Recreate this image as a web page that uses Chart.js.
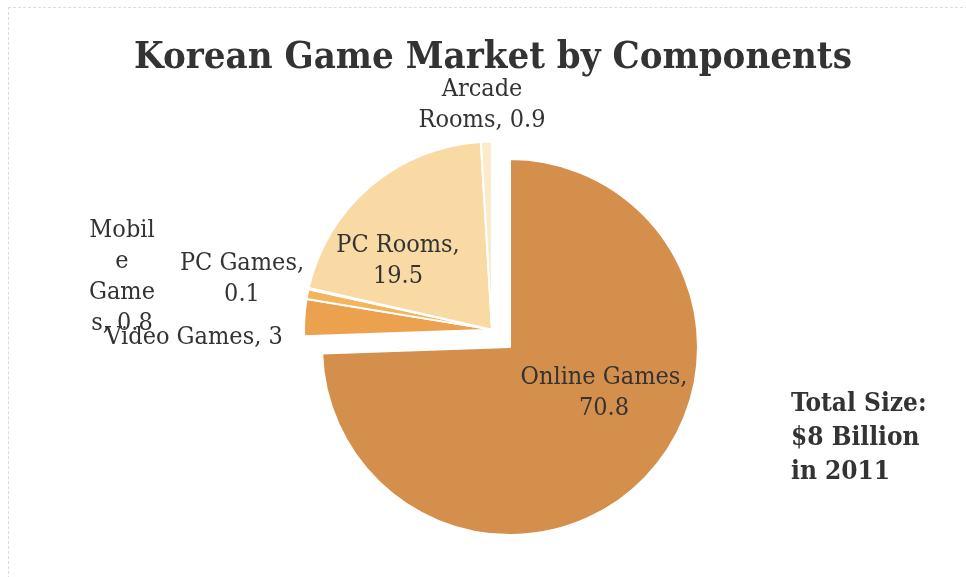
<!DOCTYPE html>
<html>
<head>
<meta charset="utf-8">
<title>Korean Game Market by Components</title>
<script src="https://cdn.jsdelivr.net/npm/chart.js@4.4.1/dist/chart.umd.min.js"></script>
<style>
    html, body { margin: 0; padding: 0; background: #fff; }
    #wrap { position: relative; width: 966px; height: 577px; overflow: hidden; }
    #frame {
        position: absolute; left: 8px; top: 7px; right: -2px; bottom: -2px;
        border-left: 1px dashed #dcdcdc; border-top: 1px dashed #dcdcdc;
    }
    canvas { position: absolute; left: 0; top: 0; }
</style>
</head>
<body>
<div id="wrap">
    <div id="frame"></div>
    <canvas id="marketPie" width="966" height="577"></canvas>
</div>
<script>
// --- DATA ---
const categories = ['Online Games', 'Video Games', 'Mobile Games', 'PC Games', 'PC Rooms', 'Arcade Rooms'];
const shares = [70.8, 3, 0.8, 0.1, 19.5, 0.9];
const sliceColors = ['#d58f4c', '#eca14e', '#f2b55e', '#f6c778', '#f9daa4', '#fcebcb'];

const chartTitle = 'Korean Game Market by Components';
const noteLines = ['Total Size:', '$8 Billion', 'in 2011'];

// slices pulled out of the pie together (everything but online games)
const explodedSlices = [1, 2, 3, 4, 5];
const explodeDistance = 25;

// --- LABEL LAYOUT ---
// where each "Name, value" string wraps (character indexes)
const labelBreaks = [[13], [], [5, 6, 11], [9], [9], [6]];
// label block centre, relative to the pie centre
const labelOffsets = [[94, 46], [-316, -10], [-388, -70], [-268, -68], [-112, -86], [-28, -242]];

const TEXT_COLOR = '#333333';
const LABEL_FONT = '25px "DejaVu Serif Condensed", "DejaVu Serif", serif';
const LABEL_LINE = 31;

function wrapLabel(i) {
    const text = `${categories[i]}, ${shares[i]}`;
    const cuts = [0, ...labelBreaks[i], text.length];
    const lines = [];
    for (let k = 0; k < cuts.length - 1; k++) {
        const part = text.slice(cuts[k], cuts[k + 1]).trim();
        if (part) lines.push(part);
    }
    return lines;
}

// shift of the pulled-out group, along the bisector of its combined angle
function groupShift() {
    const total = shares.reduce((a, b) => a + b, 0);
    let start = 0;
    for (let i = 0; i < explodedSlices[0]; i++) start += shares[i];
    let span = 0;
    explodedSlices.forEach(i => span += shares[i]);
    const mid = ((start + span / 2) / total) * Math.PI * 2 - Math.PI / 2;
    return { dx: Math.cos(mid) * explodeDistance, dy: Math.sin(mid) * explodeDistance };
}

// draws the arcs, moving the exploded group as one piece
const explodeGroup = {
    id: 'explodeGroup',
    beforeDatasetDraw(chart, args) {
        const ctx = chart.ctx;
        const { dx, dy } = groupShift();
        args.meta.data.forEach((arc, i) => {
            ctx.save();
            if (explodedSlices.includes(i)) ctx.translate(dx, dy);
            arc.draw(ctx, chart.chartArea);
            ctx.restore();
        });
        return false;
    }
};

// title, data labels and the side note
const textLayer = {
    id: 'textLayer',
    afterDatasetsDraw(chart) {
        const ctx = chart.ctx;
        const arcs = chart.getDatasetMeta(0).data;
        const cx = arcs[0].x, cy = arcs[0].y;

        ctx.save();
        ctx.fillStyle = TEXT_COLOR;

        ctx.font = 'bold 38px "DejaVu Serif Condensed", "DejaVu Serif", serif';
        ctx.textAlign = 'center';
        ctx.textBaseline = 'alphabetic';
        ctx.fillText(chartTitle, 493, 68);

        ctx.font = LABEL_FONT;
        ctx.textBaseline = 'middle';
        arcs.forEach((arc, i) => {
            const lines = wrapLabel(i);
            const [ox, oy] = labelOffsets[i];
            const top = cy + oy - (lines.length - 1) * LABEL_LINE / 2;
            lines.forEach((line, k) => ctx.fillText(line, cx + ox, top + k * LABEL_LINE));
        });

        ctx.font = 'bold 26px "DejaVu Serif Condensed", "DejaVu Serif", serif';
        ctx.textAlign = 'left';
        ctx.textBaseline = 'alphabetic';
        noteLines.forEach((line, k) => ctx.fillText(line, 791, 411 + k * 34));
        ctx.restore();
    }
};

document.addEventListener('DOMContentLoaded', () => {
    const ctx = document.getElementById('marketPie').getContext('2d');
    new Chart(ctx, {
        type: 'pie',
        data: {
            labels: categories,
            datasets: [{
                data: shares,
                backgroundColor: sliceColors,
                borderColor: '#ffffff',
                borderWidth: 2,
                radius: 188
            }]
        },
        options: {
            responsive: false,
            animation: false,
            layout: { padding: { left: 54, right: 0, top: 137, bottom: 20 } },
            plugins: {
                legend: { display: false },
                tooltip: { enabled: false }
            }
        },
        plugins: [explodeGroup, textLayer]
    });
});
</script>
</body>
</html>
